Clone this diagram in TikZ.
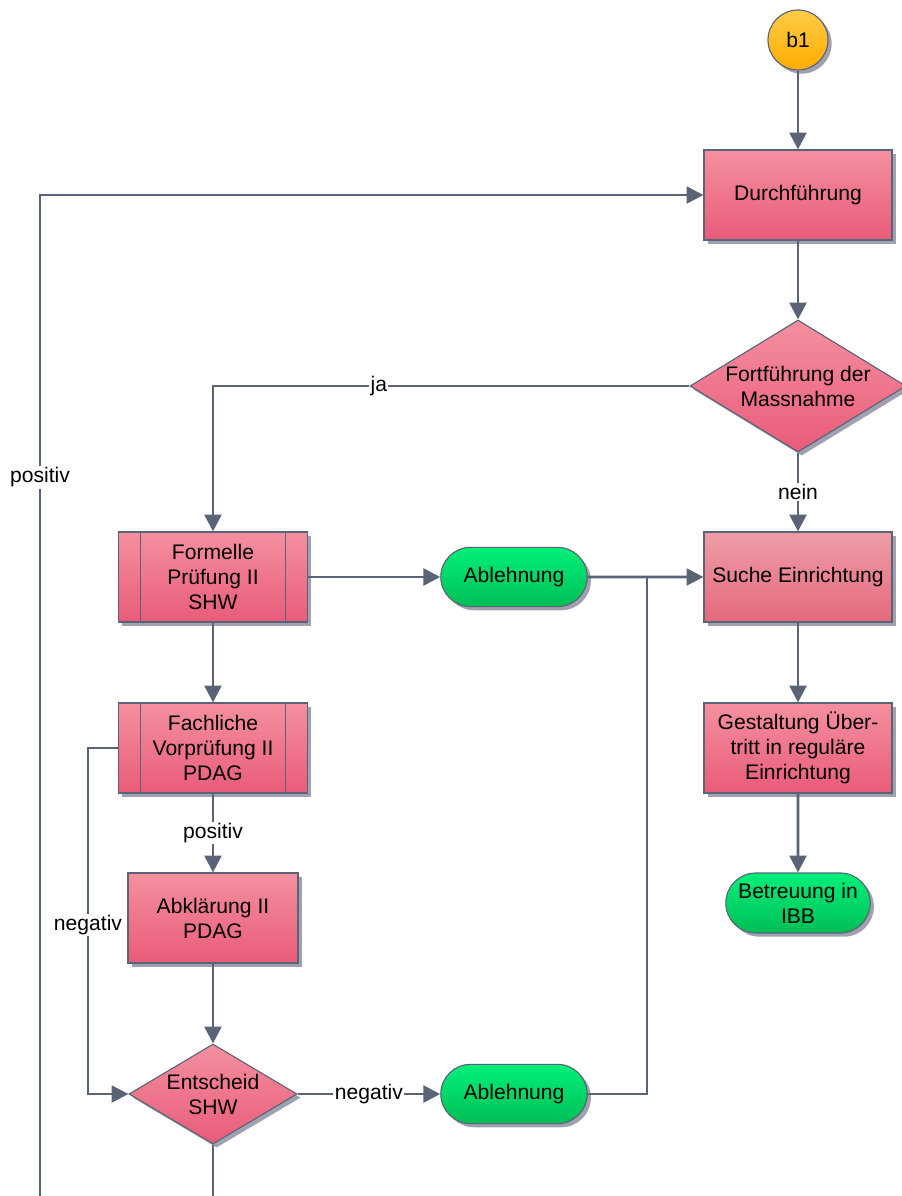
\documentclass[tikz,border=0pt]{standalone}
\usepackage{fontspec}
\setmainfont{Liberation Sans}
\usepackage{tikz}
\usetikzlibrary{shapes.geometric,shapes.misc,shadows,arrows.meta}
\definecolor{linegray}{RGB}{91,99,119}
\definecolor{pinktop}{RGB}{244,144,159}
\definecolor{pinkbot}{RGB}{233,91,122}
\definecolor{suchetop}{RGB}{238,157,167}
\definecolor{suchebot}{RGB}{228,104,124}
\definecolor{greentop}{RGB}{0,240,122}
\definecolor{greenbot}{RGB}{0,190,85}
\definecolor{orangetop}{RGB}{255,204,72}
\definecolor{orangebot}{RGB}{255,172,0}
\definecolor{shadowgray}{RGB}{158,162,176}

\begin{document}
\begin{tikzpicture}[x=0.025cm,y=-0.025cm,
  every node/.style={font=\fontsize{15pt}{17.8pt}\selectfont},
  sh/.style={drop shadow={shadow xshift=2.6pt,shadow yshift=-2.6pt,fill=shadowgray,opacity=1}},
  box/.style={rectangle,draw=linegray,line width=0.8pt,top color=pinktop,bottom color=pinkbot,
    minimum width=4.7cm,minimum height=2.25cm,align=center,inner sep=2pt,sh},
  term/.style={rounded rectangle,draw=linegray,line width=0.8pt,top color=greentop,bottom color=greenbot,
    minimum width=3.8cm,minimum height=1.48cm,align=center,inner sep=2pt,sh},
  dec/.style={diamond,draw=linegray,line width=0.8pt,top color=pinktop,bottom color=pinkbot,
    align=center,inner sep=0pt,sh},
  conn/.style={draw=linegray,line width=2.1pt},
  arr/.style={conn,-{Triangle[length=12pt,width=12pt]}},
  lbl/.style={fill=white,inner sep=1pt}]
\useasboundingbox (0,0) rectangle (901,1196);

% right column
\node [circle,draw=linegray,line width=0.8pt,top color=orangetop,bottom color=orangebot,
  minimum size=1.5cm,inner sep=0pt,sh] (b1) at (798,40) {b1};
\node [box] (durch) at (798,195) {Durchführung};
\node [dec,minimum width=5.4cm,minimum height=3.3cm,shape aspect=1.64] (fort) at (798,386) {Fortführung der\\Massnahme};
\node [box,top color=suchetop,bottom color=suchebot] (suche) at (798,577) {Suche Einrichtung};
\node [box] (gestalt) at (798,748) {Gestaltung Über-\\tritt in reguläre\\Einrichtung};
\node [term,minimum width=3.75cm,minimum height=1.5cm] (ibb) at (798,903) {Betreuung in\\IBB};

% left column
\node [box,minimum width=4.725cm] (formelle) at (213,577) {Formelle\\Prüfung II\\SHW};
\node [box,minimum width=4.725cm] (fachlich) at (213,748) {Fachliche\\Vorprüfung II\\PDAG};
\node [box,minimum width=4.25cm] (abkl) at (213,918) {Abklärung II\\PDAG};
\node [dec,minimum width=4.2cm,minimum height=2.5cm,shape aspect=1.68] (entscheid) at (213,1094) {Entscheid\\SHW};
\foreach \n in {formelle,fachlich} {
  \draw [linegray,line width=0.8pt] ([xshift=0.575cm]\n.north west) -- ([xshift=0.575cm]\n.south west);
  \draw [linegray,line width=0.8pt] ([xshift=-0.575cm]\n.north east) -- ([xshift=-0.575cm]\n.south east);
}

% middle
\node [term] (ablA) at (514,577) {Ablehnung};
\node [term] (ablB) at (514,1094) {Ablehnung};

\coordinate (join) at (647,577);
\coordinate (negbend) at (88,748);
\coordinate (posfoot) at (40,1196);
\coordinate (shwfoot) at (213,1196);

% connectors
\draw [arr] (b1) -- (durch);
\draw [arr] (durch) -- (fort);
\draw [arr] (fort.west) -| node [lbl,pos=0.326] {ja} (formelle.north);
\draw [arr] (fort.south) -- node [lbl] {nein} (suche.north);
\draw [arr] (suche) -- (gestalt);
\draw [arr] (gestalt) -- (ibb);
\draw [arr] (formelle) -- (ablA);
\draw [arr] (ablA) -- (suche);
\draw [conn] (ablB.east) -| (join);
\draw [arr] (formelle) -- (fachlich);
\draw [arr] (fachlich.south) -- node [lbl] {positiv} (abkl.north);
\draw [arr] (abkl.south) -- (entscheid.north);
\draw [arr] (entscheid.east) -- node [lbl] {negativ} (ablB.west);
\draw [arr] (fachlich.west) -- (negbend) |- node [lbl,pos=0.256] {negativ} (entscheid.west);
\draw [conn] (entscheid.south) -- (shwfoot);
\draw [arr] (posfoot) |- node [lbl,pos=0.359] {positiv} (durch.west);
\end{tikzpicture}
\end{document}
